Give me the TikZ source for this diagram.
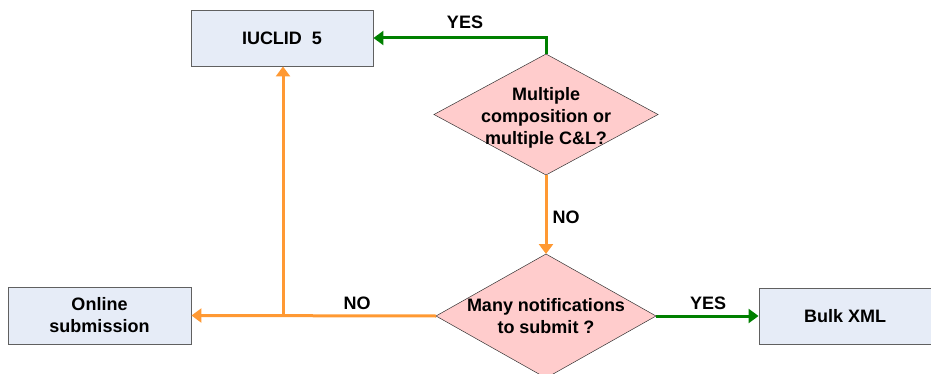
\documentclass[tikz,border=0pt]{standalone}
\usepackage{fontspec}
\setmainfont{Liberation Sans}
\usetikzlibrary{shapes.geometric,arrows.meta}
\definecolor{boxfill}{HTML}{E6ECF7}
\definecolor{boxline}{HTML}{606060}
\definecolor{diafill}{HTML}{FFCCCC}
\definecolor{orangeline}{HTML}{FF9933}
\definecolor{greenline}{HTML}{008000}
\tikzset{
  procbox/.style={draw=boxline, fill=boxfill, line width=0.9pt, minimum width=182pt, minimum height=56pt, align=center, font=\bfseries\fontsize{18}{22}\selectfont, inner sep=0pt},
  decision/.style={draw=black!80, fill=diafill, line width=0.5pt},
  qtext/.style={font=\bfseries\fontsize{18}{22}\selectfont, align=center, inner sep=0pt},
  orangearrow/.style={draw=orangeline, line width=3pt, -{Triangle[length=10pt,width=14pt]}},
  greenarrow/.style={draw=greenline, line width=3pt, -{Triangle[length=10pt,width=14pt]}},
  lbl/.style={font=\bfseries\fontsize{18}{22}\selectfont, inner sep=0pt},
}
\begin{document}
\begin{tikzpicture}[x=1pt,y=-1pt]
\useasboundingbox (0,0) rectangle (931,374);
\begin{scope}
\clip (0,0) rectangle (931,374);
\node[procbox] (iuclid) at (282,38) {IUCLID\ \ 5};
\node[procbox, minimum width=183pt, minimum height=57pt] (online) at (99.5,315.5) {Online\\submission};
\node[procbox, minimum width=172pt, minimum height=56pt] (bulk) at (845,316) {Bulk XML};
\path[decision] (546,54) -- (658,114.5) -- (546,175) -- (434,114.5) -- cycle;
\node[qtext] (q1) at (546,118) {Multiple\\composition or\\multiple C\&L?};
\path[decision] (546,254) -- (656,316) -- (546,378) -- (436,316) -- cycle;
\node[qtext] (q2) at (546,316) {Many notifications\\to submit ?};
\coordinate (q1top) at (546,54);
\coordinate (q1bot) at (546,175);
\coordinate (q2top) at (546,254);
\coordinate (q2left) at (436,316);
\coordinate (q2right) at (656,316);
\coordinate (branch) at (283,316);
\coordinate (bend) at (546,38);
\draw[greenarrow] (q1top) -- (bend) -- (iuclid.east);
\draw[orangearrow] (q1bot) -- (q2top);
\draw[orangearrow] (q2left) -- (online.east);
\draw[orangearrow] (branch) -- (branch |- iuclid.south);
\draw[greenarrow] (q2right) -- (bulk.west);
\node[lbl] (l1) at (465,22) {YES};
\node[lbl] (l2) at (566,217) {NO};
\node[lbl] (l3) at (357,303) {NO};
\node[lbl] (l4) at (708,303) {YES};
\end{scope}
\end{tikzpicture}
\end{document}
